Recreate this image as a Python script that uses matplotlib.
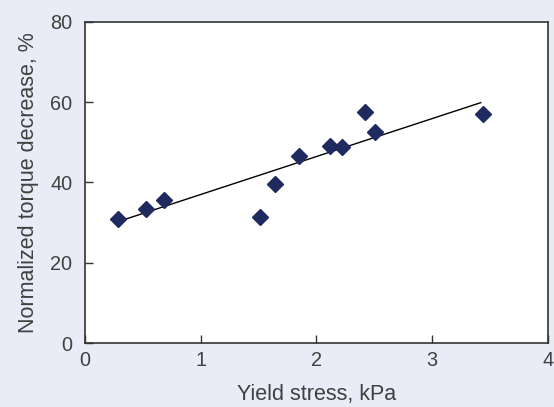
import matplotlib
matplotlib.use("Agg")
from matplotlib import pyplot as plt

# data
yield_stress = [0.285, 0.527, 0.68, 1.51, 1.64, 1.85, 2.12, 2.22, 2.42, 2.51, 3.44]
torque_decrease = [31.0, 33.3, 35.6, 31.4, 39.6, 46.6, 49.2, 48.8, 57.6, 52.6, 57.1]
trend_x = [0.28, 3.42]
trend_y = [30.2, 59.9]

x_ticks = [0, 1, 2, 3, 4]
y_ticks = [0, 20, 40, 60, 80]

bg = '#e9ecf6'
text_col = '#404040'

plt.rcParams['font.family'] = ['Liberation Sans', 'DejaVu Sans']

fig = plt.figure(figsize=(5.54, 4.07), dpi=100, facecolor=bg)
ax = fig.add_axes([0.1534, 0.1572, 0.8356, 0.7888])
ax.set_facecolor('white')

ax.plot(trend_x, trend_y, color='black', linewidth=1.0)
ax.plot(yield_stress, torque_decrease, linestyle='none', marker='D',
        markersize=8, color='#1f2b5e')

ax.set_xlim(0, 4)
ax.set_ylim(0, 80)
ax.set_xticks(x_ticks)
ax.set_yticks(y_ticks)
ax.tick_params(direction='in', length=6, width=1, colors='#333333',
               labelcolor=text_col, labelsize=14.3)
ax.tick_params(axis='y', pad=9)
ax.tick_params(axis='x', pad=6)
for s in ax.spines.values():
    s.set_color('#333333')
    s.set_linewidth(1.2)

ax.set_xlabel('Yield stress, kPa', fontsize=15.5, color=text_col, labelpad=10)
ax.set_ylabel('Normalized torque decrease, %', fontsize=15.5, color=text_col, labelpad=8)

fig.savefig('out.png', dpi=100, facecolor=bg)
